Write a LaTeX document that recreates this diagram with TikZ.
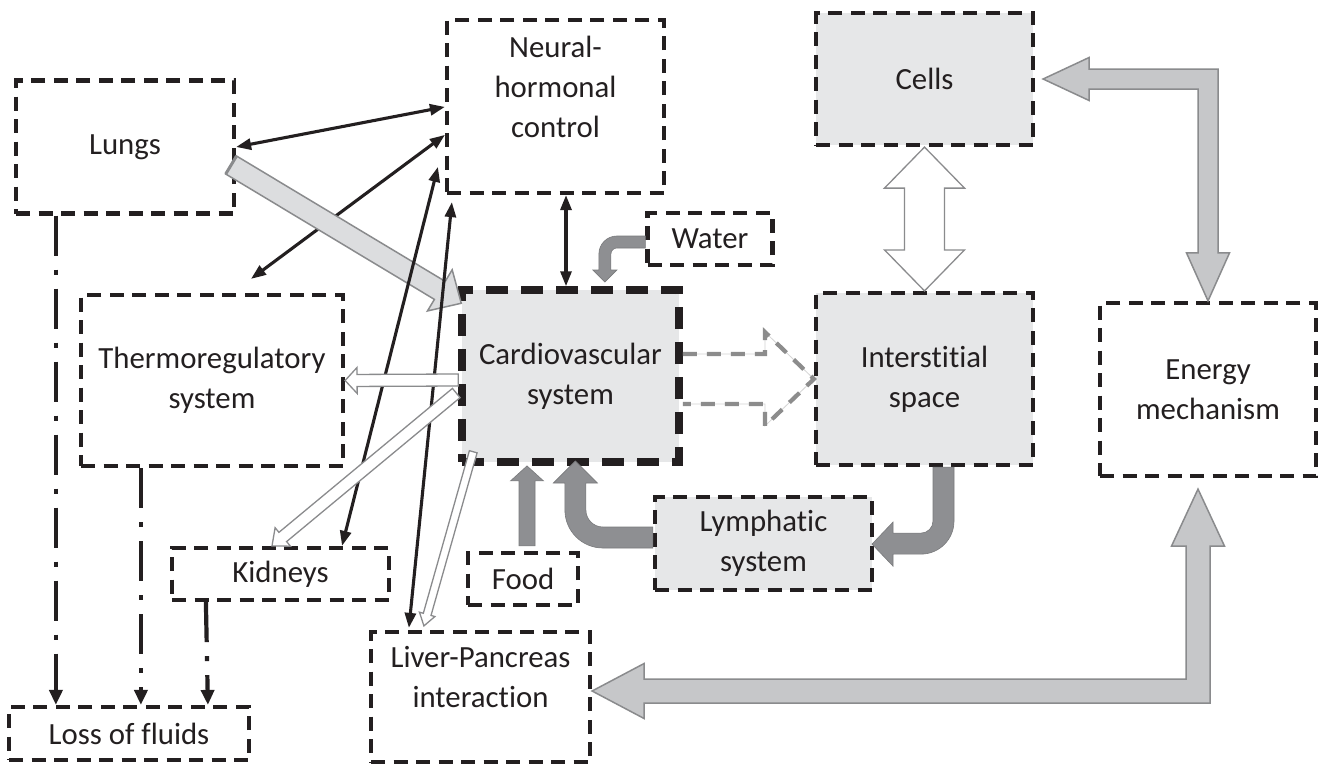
\documentclass[tikz,border=0pt]{standalone}
\usepackage{fontspec}
\setmainfont{Carlito}[Ligatures={NoCommon,NoContextual,NoRequired},Contextuals={NoAlternate}]
\usetikzlibrary{arrows.meta,calc}
\definecolor{ink}{HTML}{231F20}
\definecolor{boxfill}{HTML}{E6E7E8}
\definecolor{darkflow}{HTML}{8E8F92}
\definecolor{midflow}{HTML}{C6C7C9}
\definecolor{lightflow}{HTML}{DCDDDF}
\definecolor{flowedge}{HTML}{8A8B8D}
\definecolor{dashgray}{HTML}{8C8C8C}
\definecolor{faintline}{HTML}{D4D4D4}

% block arrow: style, from, to, shaft half width, head half width, head length
\newcommand\blockarrow[6]{%
  \coordinate (ba-s) at #2;
  \coordinate (ba-t) at #3;
  \coordinate (ba-c) at ($(ba-t)!#6!(ba-s)$);
  \draw[#1] ($(ba-s)!#4!90:(ba-t)$) -- ($(ba-c)!#4!-90:(ba-s)$) -- ($(ba-c)!#5!-90:(ba-s)$) -- (ba-t) -- ($(ba-c)!#5!90:(ba-s)$) -- ($(ba-c)!#4!90:(ba-s)$) -- ($(ba-s)!#4!-90:(ba-t)$) -- cycle;
}

\tikzset{
  box/.style={draw=ink, line width=4.2pt, dash pattern=on 14pt off 8.5pt, inner sep=0pt,
    align=center, text=ink, font=\fontsize{30.8}{40}\selectfont},
  shaded/.style={box, fill=boxfill},
  heavybox/.style={shaded, line width=7.5pt, dash pattern=on 22pt off 13pt},
  link/.style={draw=ink, line width=3.1pt,
    {Triangle[length=15pt,width=11pt]}-{Triangle[length=15pt,width=11pt]}},
  lossline/.style={draw=ink, line width=4.2pt, dash pattern=on 40pt off 14pt on 5pt off 14pt,
    -{Triangle[length=15pt,width=13pt]}},
  hollow/.style={draw=flowedge, line width=1.3pt, fill=white, line join=miter},
  bigflow/.style={draw=flowedge, line width=1.5pt, fill=lightflow, line join=miter},
  midarrow/.style={draw=flowedge, line width=1.5pt, fill=midflow, line join=miter},
  darkarrow/.style={fill=darkflow, draw=darkflow!85!black, line width=0.6pt, line join=miter},
  dashflow/.style={draw=dashgray, line width=4.2pt, dash pattern=on 14pt off 10pt, line join=miter},
  faintflow/.style={draw=faintline, line width=0.8pt},
}

\begin{document}
\begin{tikzpicture}[x=1pt,y=-1pt]
\path[fill=white, use as bounding box] (0,0) rectangle (1327,766);

% ---------- boxes ----------
\node[box, minimum width=218pt, minimum height=133pt] (lungs) at (125,147) {Lungs};
\node[box, minimum width=217pt, minimum height=173pt] (neural) at (555.5,106.5) {Neural-\\hormonal\\control\\\mbox{}};
\node[shaded, minimum width=217pt, minimum height=132pt] (cells) at (924.5,79) {Cells};
\node[box, minimum width=262pt, minimum height=171pt] (thermo) at (212,380.5) {Thermoregulatory\\system};
\node[heavybox, minimum width=217pt, minimum height=172pt] (cardio) at (570.5,376) {Cardiovascular\\system};
\node[box, minimum width=125pt, minimum height=52pt] (water) at (710,239) {Water};
\node[shaded, minimum width=217pt, minimum height=172pt] (inter) at (924.5,379) {Interstitial\\space};
\node[box, minimum width=216pt, minimum height=173pt] (energy) at (1208,389.5) {Energy\\mechanism};
\node[box, minimum width=217pt, minimum height=52pt] (kidneys) at (280.5,574) {Kidneys};
\node[box, minimum width=110pt, minimum height=52pt] (food) at (523,579) {Food};
\node[shaded, minimum width=217pt, minimum height=93pt] (lymph) at (763.5,543.5) {Lymphatic\\system};
\node[box, minimum width=219pt, minimum height=130pt] (liver) at (480.5,697) {Liver-Pancreas\\interaction\\\mbox{}};
\node[box, minimum width=240pt, minimum height=53pt] (loss) at (129,733.5) {Loss of fluids};

% ---------- cardiovascular -> interstitial (dashed outline arrow) ----------
\coordinate (dsa) at (cardio.east |- inter.west);
\path[faintflow] ($(dsa)+(0,-25)$) -- ($(inter.west)+(-49,-25)$) -- ($(inter.west)+(-49,-47)$) -- (inter.west) -- ($(inter.west)+(-49,47)$) -- ($(inter.west)+(-49,25)$) -- ($(dsa)+(0,25)$);
\draw[dashflow] ($(dsa)+(0,-25)$) -- ($(inter.west)+(-49,-25)$) -- ($(inter.west)+(-49,-47)$) -- (inter.west) -- ($(inter.west)+(-49,47)$) -- ($(inter.west)+(-49,25)$) -- ($(dsa)+(0,25)$);

% ---------- cells <-> interstitial ----------
\draw[hollow] (cells.south) -- ($(cells.south)+(40,41)$) -- ($(cells.south)+(20,41)$) -- ($(inter.north)+(20,-41)$) -- ($(inter.north)+(40,-41)$) -- (inter.north) -- ($(inter.north)+(-40,-41)$) -- ($(inter.north)+(-20,-41)$) -- ($(cells.south)+(-20,41)$) -- ($(cells.south)+(-40,41)$) -- cycle;

% ---------- energy <-> cells ----------
\coordinate (ecA) at ($(cells.east)+(8,0)$);
\coordinate (ecB) at (energy.north);
\draw[midarrow] (ecA) -- ++(46,-21.5) -- ++(0,11.5) -- ($(ecB|-ecA)+(10,-10)$) -- ($(ecB)+(10,-48)$) -- ++(11.5,0) -- (ecB) -- ++(-21.5,-48) -- ++(11.5,0) -- ($(ecB|-ecA)+(-10,10)$) -- ($(ecA)+(46,10)$) -- ++(0,11.5) -- cycle;

% ---------- energy <-> liver ----------
\coordinate (elA) at ($(liver.east)+(0,-6)$);
\coordinate (elB) at ($(energy.south)+(-10,11)$);
\draw[midarrow] (elA) -- ++(52,-27.5) -- ++(0,15.5) -- ($(elB|-elA)+(-12,-12)$) -- ($(elB)+(-12,57)$) -- ++(-14.5,0) -- (elB) -- ++(26.5,57) -- ++(-14.5,0) -- ($(elB|-elA)+(12,12)$) -- ($(elA)+(52,12)$) -- ++(0,15.5) -- cycle;

% ---------- water -> cardiovascular ----------
\begin{scope}[shift={(water.west)}]
\draw[darkarrow] (0,-3) -- (-28.5,-3) arc[start angle=90,end angle=180,radius=18pt] -- (-46.5,31) -- (-52.5,31) -- (-40.5,43) -- (-28.5,31) -- (-34.5,31) -- (-34.5,15) arc[start angle=180,end angle=90,radius=6pt] -- (0,9) -- cycle;
\end{scope}

% ---------- lymphatic -> cardiovascular ----------
\begin{scope}[shift={(lymph.west)}]
\draw[darkarrow] (0,-16.5) -- (-50,-16.5) arc[start angle=270,end angle=180,radius=17pt] -- (-67,-60.5) -- (-55.5,-60.5) -- (-77.5,-82.5) -- (-99.5,-60.5) -- (-88,-60.5) -- (-88,-33.5) arc[start angle=180,end angle=270,radius=38pt] -- (0,4.5) -- cycle;
\end{scope}

% ---------- interstitial -> lymphatic ----------
\begin{scope}[shift={(inter.south)}]
\draw[darkarrow] (8.5,0) -- (8.5,54) arc[start angle=0,end angle=-90,radius=12pt] -- (-31.5,66) -- (-31.5,55) -- (-52.5,77) -- (-31.5,99) -- (-31.5,87) -- (-3.5,87) arc[start angle=-90,end angle=0,radius=33pt] -- (29.5,0) -- cycle;
\end{scope}

% ---------- food -> cardiovascular ----------
\blockarrow{darkarrow}{($(food.north)+(4,-5)$)}{($(food.north)+(4,-85)$)}{8pt}{16.5pt}{15pt}

% ---------- black links ----------
\draw[link] ($(thermo.north)+(39,-14)$) -- ($(neural.north west)+(0,117)$);

\blockarrow{bigflow}{($(lungs.east)+(-5,18)$)}{($(cardio.north west)+(3,17)$)}{10.5pt}{24pt}{25pt}
\draw[flowedge, line width=3pt] ($(ba-s)!10.5pt!90:(ba-t)$) -- ($(ba-s)!10.5pt!-90:(ba-t)$);

\draw[link] (lungs.east) -- ($(neural.north west)+(0,89)$);
\draw[link] ($(kidneys.north)+(61.5,0)$) -- ($(neural.north west)+(-7,149)$);
\draw[link] ($(liver.north west)+(40,-2)$) -- ($(neural.south west)+(7,7)$);
\coordinate (nc) at ($(neural.south)+(10.5,0)$);
\draw[link] (nc) -- (nc |- cardio.north);

% ---------- hollow outflows of the cardiovascular system ----------
\blockarrow{hollow}{($(cardio.west)+(0,4)$)}{(thermo.east)}{6pt}{13pt}{12pt}
\blockarrow{hollow}{($(cardio.west)+(-2,17)$)}{($(kidneys.north)+(-8.5,0)$)}{6pt}{12pt}{14pt}
\blockarrow{hollow}{($(cardio.south west)+(15,-14)$)}{($(liver.north west)+(55,-4)$)}{4pt}{8pt}{12pt}

% ---------- loss of fluids ----------
\coordinate (lungsdrop) at ($(lungs.south west)+(42,0)$);
\coordinate (thermodrop) at ($(thermo.south west)+(62,0)$);
\coordinate (kidneydrop) at ($(kidneys.south west)+(36,0)$);
\draw[lossline] (lungsdrop) -- (lungsdrop |- loss.north);
\draw[lossline] (thermodrop) -- (thermodrop |- loss.north);
\draw[lossline] (kidneydrop) -- ($(kidneydrop |- loss.north)+(2,0)$);
\end{tikzpicture}
\end{document}
